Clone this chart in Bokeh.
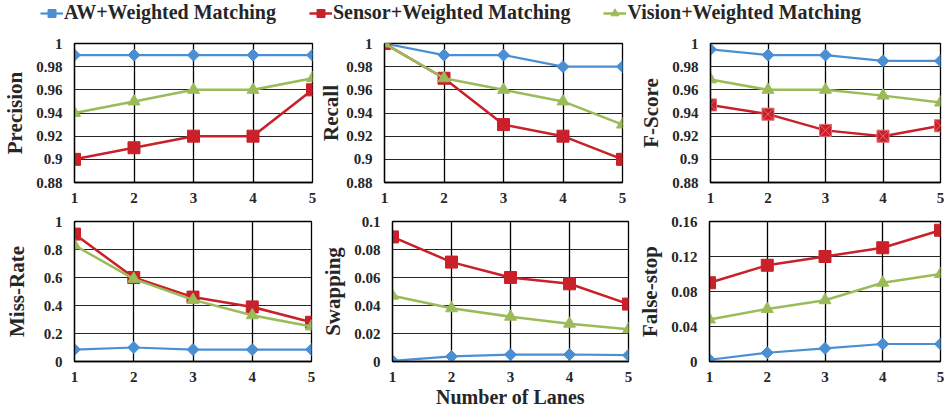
import math
from bokeh.plotting import figure
from bokeh.models import (Range1d, FixedTicker, NumeralTickFormatter, Legend,
                          LegendItem, ColumnDataSource)
from bokeh.layouts import column, row
from bokeh.embed import file_html
from bokeh.resources import INLINE

# ---------------- data ----------------
lanes = [1, 2, 3, 4, 5]
series_names = ["AW+Weighted Matching", "Sensor+Weighted Matching", "Vision+Weighted Matching"]

precision_aw = [0.99, 0.99, 0.99, 0.99, 0.99]
precision_sensor = [0.90, 0.91, 0.92, 0.92, 0.96]
precision_vision = [0.94, 0.95, 0.96, 0.96, 0.97]

recall_aw = [1.0, 0.99, 0.99, 0.98, 0.98]
recall_sensor = [1.0, 0.97, 0.93, 0.92, 0.90]
recall_vision = [1.0, 0.97, 0.96, 0.95, 0.93]

fscore_aw = [0.995, 0.990, 0.990, 0.985, 0.985]
fscore_sensor = [0.947, 0.939, 0.925, 0.920, 0.929]
fscore_vision = [0.969, 0.960, 0.960, 0.955, 0.949]

missrate_aw = [0.085, 0.10, 0.085, 0.085, 0.085]
missrate_sensor = [0.91, 0.60, 0.46, 0.39, 0.28]
missrate_vision = [0.83, 0.59, 0.44, 0.33, 0.25]

swapping_aw = [0.0005, 0.0036, 0.0049, 0.005, 0.0045]
swapping_sensor = [0.089, 0.071, 0.060, 0.0555, 0.041]
swapping_vision = [0.047, 0.038, 0.032, 0.027, 0.023]

falsestop_aw = [0.002, 0.010, 0.015, 0.020, 0.020]
falsestop_sensor = [0.090, 0.110, 0.120, 0.130, 0.150]
falsestop_vision = [0.048, 0.060, 0.070, 0.090, 0.100]

precision_ticks = [0.88, 0.90, 0.92, 0.94, 0.96, 0.98, 1.0]
missrate_ticks = [0, 0.2, 0.4, 0.6, 0.8, 1.0]
swapping_ticks = [0, 0.02, 0.04, 0.06, 0.08, 0.1]
falsestop_ticks = [0, 0.04, 0.08, 0.12, 0.16]

# ---------------- style ----------------
FONT = "Liberation Serif"
BLUE = "#4A8FD3"
RED = "#C9202A"
GREEN = "#9BBB59"
GRID = "#000000"
TEXT = "#262626"


def add_series(p, ys, red_marker="square"):
    rs = []
    specs = [
        (ys[0], BLUE, 2.2, "square", 8.5, math.pi / 4),
        (ys[1], RED, 2.5, red_marker, 12, 0.0),
        (ys[2], GREEN, 2.5, "triangle", 12, 0.0),
    ]
    for vals, col, lw, mk, sz, ang in specs:
        src = ColumnDataSource(dict(x=lanes, y=vals))
        l = p.line("x", "y", source=src, line_color=col, line_width=lw)
        line_col = "#E06A70" if mk == "square_x" else col
        s = p.scatter("x", "y", source=src, marker=mk, size=sz, angle=ang,
                      fill_color=col, line_color=line_col, line_width=1)
        rs.append((l, s))
    return rs


def panel(ylabel, ys, y0, y1, ticks, width, height, left, right, top, bottom,
          lab_standoff=6, xlabel=None, red_marker="square"):
    p = figure(width=width, height=height, x_range=Range1d(1, 5),
               y_range=Range1d(y0, y1), output_backend="svg",
               toolbar_location=None, min_border_left=left,
               min_border_right=right, min_border_top=top,
               min_border_bottom=bottom)
    p.outline_line_color = "black"
    p.outline_line_width = 1.3
    for ax in (p.xaxis[0], p.yaxis[0]):
        ax.major_tick_in = 0
        ax.major_tick_out = 0
        ax.minor_tick_in = 0
        ax.minor_tick_out = 0
        ax.axis_line_color = "black"
        ax.axis_line_width = 1.3
        ax.major_label_text_font = FONT
        ax.major_label_text_font_style = "bold"
        ax.major_label_text_font_size = "15px"
        ax.major_label_text_color = TEXT
        ax.axis_label_text_font = FONT
        ax.axis_label_text_font_style = "bold"
        ax.axis_label_text_color = TEXT
    p.xaxis[0].ticker = FixedTicker(ticks=lanes)
    p.yaxis[0].ticker = FixedTicker(ticks=ticks)
    p.yaxis[0].formatter = NumeralTickFormatter(format="0.[00]")
    p.yaxis[0].major_label_standoff = 12
    p.xaxis[0].major_label_standoff = 10
    p.yaxis[0].axis_label = ylabel
    p.yaxis[0].axis_label_text_font_size = "21px"
    p.yaxis[0].axis_label_standoff = lab_standoff
    if xlabel:
        p.xaxis[0].axis_label = xlabel
        p.xaxis[0].axis_label_text_font_size = "20px"
        p.xaxis[0].axis_label_standoff = 1
    p.xgrid.grid_line_color = GRID
    p.ygrid.grid_line_color = GRID
    p.xgrid.grid_line_width = 1.3
    p.ygrid.grid_line_width = 1.1
    p.ygrid.grid_line_alpha = 0.85
    add_series(p, ys, red_marker)
    return p


# ---------------- legend strip ----------------
lg = figure(width=946, height=28, x_range=Range1d(0, 1), y_range=Range1d(0, 1),
            output_backend="svg", toolbar_location=None, min_border=0)
lg.axis.visible = False
lg.grid.visible = False
lg.outline_line_color = None
pairs = add_series(lg, [[5, 5, 5, 5, 5]] * 3)
items = [LegendItem(label=n, renderers=[l, s]) for n, (l, s) in zip(series_names, pairs)]
leg = Legend(items=items, orientation="horizontal", location=(40, 4),
             label_text_font=FONT, label_text_font_style="bold",
             label_text_font_size="20px", label_text_color=TEXT,
             border_line_color=None, background_fill_alpha=0,
             padding=0, margin=0, spacing=33, glyph_width=23,
             label_standoff=1)
lg.add_layout(leg, "center")

# ---------------- panels ----------------
p1 = panel("Precision", [precision_aw, precision_sensor, precision_vision],
           0.88, 1.0, precision_ticks, 316, 180, 73, 4, 12, 26)
p2 = panel("Recall", [recall_aw, recall_sensor, recall_vision],
           0.88, 1.0, precision_ticks, 310, 180, 68, 4, 14, 26, lab_standoff=0)
p3 = panel("F-Score", [fscore_aw, fscore_sensor, fscore_vision],
           0.88, 1.0, precision_ticks, 320, 180, 84, 6, 15, 26,
           red_marker="square_x")
p4 = panel("Miss-Rate", [missrate_aw, missrate_sensor, missrate_vision],
           0, 1.0, missrate_ticks, 315, 204, 74, 4, 12, 51, lab_standoff=12)
p5 = panel("Swapping", [swapping_aw, swapping_sensor, swapping_vision],
           0, 0.1, swapping_ticks, 317, 204, 77, 4, 12, 51,
           xlabel="Number of Lanes")
p6 = panel("False-stop", [falsestop_aw, falsestop_sensor, falsestop_vision],
           0, 0.16, falsestop_ticks, 314, 204, 77, 6, 13, 51)

layout = column(lg, row(p1, p2, p3), row(p4, p5, p6))

open("out.html", "w").write(file_html(layout, INLINE))
